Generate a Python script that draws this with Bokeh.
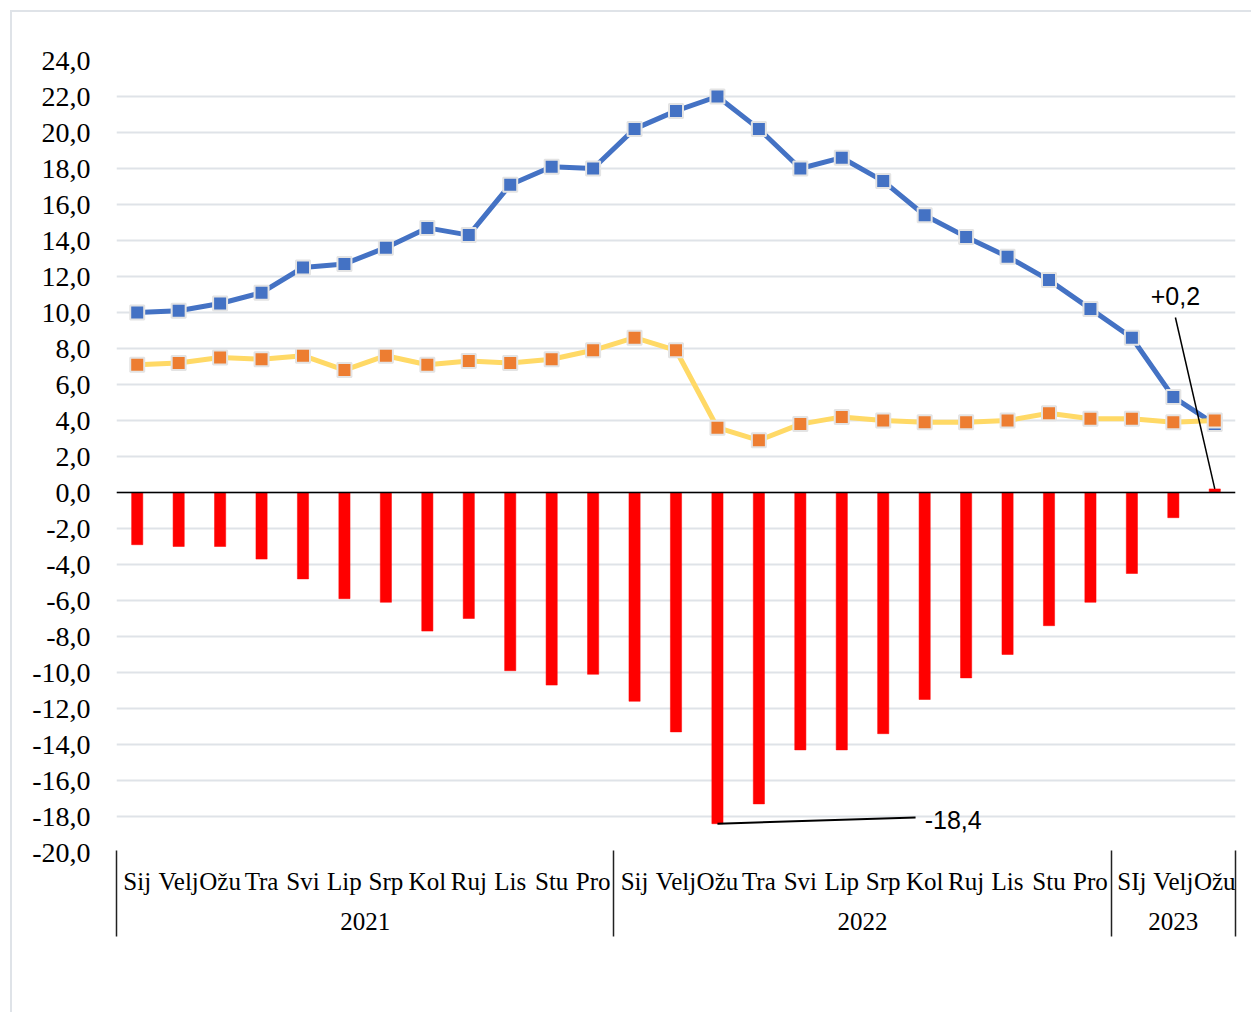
from bokeh.plotting import figure
from bokeh.models import (FactorRange, Range1d, FixedTicker, CustomJSTickFormatter, LinearAxis,
                          Legend, LegendItem, Span, Arrow, Label, ColumnDataSource)
from bokeh.embed import file_html
from bokeh.resources import INLINE

# ---------------- data ----------------
years = ["2021", "2022", "2023"]
months_full = ["Sij", "Velj", "Ožu", "Tra", "Svi", "Lip", "Srp", "Kol", "Ruj", "Lis", "Stu", "Pro"]
months_2023 = ["SIj", "Velj", "Ožu"]

uvoz = [10.0, 10.1, 10.5, 11.1, 12.5, 12.7, 13.6, 14.7, 14.3, 17.1, 18.1, 18.0,
        20.2, 21.2, 22.0, 20.2, 18.0, 18.6, 17.3, 15.4, 14.2, 13.1, 11.8, 10.2,
        8.6, 5.3, 3.8]
izvoz = [7.1, 7.2, 7.5, 7.4, 7.6, 6.8, 7.6, 7.1, 7.3, 7.2, 7.4, 7.9,
         8.6, 7.9, 3.6, 2.9, 3.8, 4.2, 4.0, 3.9, 3.9, 4.0, 4.4, 4.1,
         4.1, 3.9, 4.0]
saldo = [-2.9, -3.0, -3.0, -3.7, -4.8, -5.9, -6.1, -7.7, -7.0, -9.9, -10.7, -10.1,
         -11.6, -13.3, -18.4, -17.3, -14.3, -14.3, -13.4, -11.5, -10.3, -9.0, -7.4, -6.1,
         -4.5, -1.4, 0.2]
y_ticks = list(range(-20, 25, 2))

factors = ([("2021", m) for m in months_full] + [("2022", m) for m in months_full]
           + [("2023", m) for m in months_2023])
group_sizes = [12, 12, 3]

src = ColumnDataSource(dict(x=factors, uvoz=uvoz, izvoz=izvoz, saldo=saldo))

SERIF = "Liberation Serif"
SANS = "Liberation Sans"

p = figure(width=1239, height=998, frame_width=1119, frame_height=792,
           x_range=FactorRange(*factors, factor_padding=0, group_padding=0, range_padding=0),
           y_range=Range1d(-20, 24),
           output_backend="svg", toolbar_location=None,
           min_border_left=104, min_border_right=16, min_border_top=48, min_border_bottom=0)
p.outline_line_color = None
p.background_fill_color = "white"
p.border_fill_color = "white"
p.styles = {"border": "2px solid #dfe3e8", "margin": "10px 0 0 10px"}

# axes
p.yaxis.ticker = FixedTicker(ticks=y_ticks)
p.yaxis.formatter = CustomJSTickFormatter(code="return tick.toFixed(1).replace('.', ',')")
p.yaxis.axis_line_color = None
p.yaxis.major_tick_line_color = None
p.yaxis.major_tick_out = 0
p.yaxis.major_tick_in = 0
p.yaxis.minor_tick_line_color = None
p.yaxis.major_label_text_font = SERIF
p.yaxis.major_label_text_font_size = "28px"
p.yaxis.major_label_text_color = "black"
p.yaxis.major_label_standoff = 26

xax = p.xaxis[0]
xax.axis_line_color = None
xax.major_tick_line_color = None
xax.major_tick_out = 0
xax.major_tick_in = 0
xax.major_label_text_font = SERIF
xax.major_label_text_font_size = "25px"
xax.major_label_text_color = "black"
xax.major_label_standoff = 15
xax.group_text_font = SERIF
xax.group_text_font_size = "25px"
xax.group_text_font_style = "normal"
xax.group_text_color = "black"
xax.separator_line_color = None

# group boundary lines beside the category labels (ticks of a label-less axis)
edges = [0]
for g in group_sizes:
    edges.append(edges[-1] + g)
edge_axis = LinearAxis(ticker=FixedTicker(ticks=edges),
                       axis_line_color=None, major_tick_in=82, major_tick_out=4,
                       major_tick_line_color="#222222", major_tick_line_width=1.5,
                       minor_tick_line_color=None, major_label_text_font_size="1px",
                       major_label_text_color=None, major_label_standoff=0)
p.add_layout(edge_axis, "below")

p.xgrid.grid_line_color = None
p.ygrid.ticker = FixedTicker(ticks=y_ticks)
p.ygrid.grid_line_color = "#dfe3e8"
p.ygrid.grid_line_width = 2

# bars
bars = p.vbar(x="x", top="saldo", bottom=0, width=0.27, source=src,
              fill_color="#FF0000", line_color="#FF0000", line_width=0.5)

# zero line
p.add_layout(Span(location=0, dimension="width", line_color="black", line_width=1.5))

# lines
l_u = p.line(x="x", y="uvoz", source=src, line_color="#4472C4", line_width=5)
s_u = p.scatter(x="x", y="uvoz", source=src, marker="square", size=14,
                fill_color="#4472C4", line_color="#E4E4E4", line_width=2)
l_i = p.line(x="x", y="izvoz", source=src, line_color="#FFD966", line_width=5)
s_i = p.scatter(x="x", y="izvoz", source=src, marker="square", size=14,
                fill_color="#ED7D31", line_color="#E4E4E4", line_width=2)

# annotations
imin = saldo.index(min(saldo))
p.add_layout(Arrow(x_start=imin + 0.5, y_start=saldo[imin], x_end=19.28, y_end=-18.05,
                   end=None, line_color="black", line_width=2))
p.add_layout(Label(x=19.5, y=-18.2, text="-18,4",
                   text_font=SANS, text_font_size="25px", text_baseline="middle",
                   text_align="left", text_color="black"))
ilast = len(saldo) - 1
p.add_layout(Arrow(x_start=ilast + 0.5, y_start=saldo[ilast], x_end=25.55, y_end=9.72,
                   end=None, line_color="black", line_width=1.5))
p.add_layout(Label(x=25.55, y=10.9, text="+0,2",
                   text_font=SANS, text_font_size="25px", text_baseline="middle",
                   text_align="center", text_color="black"))

legend = Legend(items=[LegendItem(label="Saldo", renderers=[bars]),
                       LegendItem(label="Uvoz", renderers=[l_u, s_u]),
                       LegendItem(label="Izvoz", renderers=[l_i, s_i])],
                orientation="horizontal", location="bottom_center", nrows=1,
                label_text_font=SERIF, label_text_font_size="28px",
                label_text_color="black", glyph_width=52, glyph_height=17,
                label_standoff=6, spacing=34, border_line_color=None,
                background_fill_alpha=0, padding=0, margin=14)
p.add_layout(legend, "below")

open("out.html", "w").write(file_html(p, INLINE))
